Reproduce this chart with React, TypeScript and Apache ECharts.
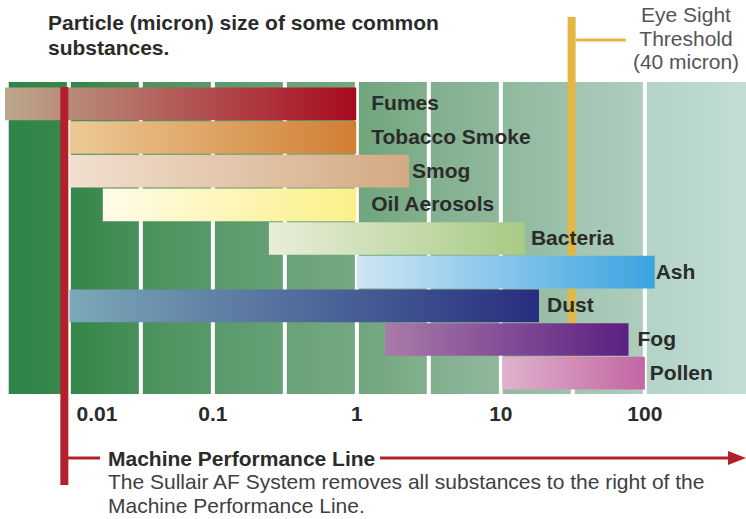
import React, { useEffect, useRef } from "react";
import * as echarts from "echarts";

// ---------- data ----------
const substances = ["Fumes", "Tobacco Smoke", "Smog", "Oil Aerosols", "Bacteria", "Ash", "Dust", "Fog", "Pollen"];
const sizeMin = [0.0036, 0.0101, 0.0101, 0.0172, 0.245, 1.0, 0.0101, 1.57, 10.2];
const sizeMax = [0.99, 0.99, 2.3, 0.99, 14.7, 117, 18.4, 77, 100];
const colorFrom = ["#bca88e", "#ecca96", "#f2dfcf", "#fffbe8", "#e8eed9", "#cfe6f4", "#7ba8b7", "#aa7aa9", "#deb3cc"];
const colorTo = ["#a80a1f", "#d07e33", "#d3aa82", "#fbf088", "#a8ca84", "#3aa3e0", "#272d80", "#5b1f82", "#c466a3"];
const labelGap = [15, 15, 3, 15, 6, 1, 8, 9, 5];

const tickValues = [0.01, 0.1, 1, 10, 100];
const tickLabels = ["0.01", "0.1", "1", "10", "100"];
const axisMin = 0.0036;
const axisMax = 504;

const bandEdges = [0.0037, 0.01, 0.0316, 0.1, 0.316, 1, 3.16, 10, 31.6, 100, 504];
const bandColorFrom = ["#2f8449", "#348649", "#4a915c", "#5a9a6c", "#68a278", "#70a57d", "#82b08f", "#8fb99c", "#a3c5b1", "#b3d3c6"];
const bandColorTo = ["#36874c", "#48905a", "#58996a", "#65a176", "#74a880", "#82b08d", "#8fb79b", "#9cc2ab", "#aecdbd", "#c2ddd6"];

const eyeSightValue = 31; // drawn position of the 40 micron threshold line
const machineLineValue = 0.0093;

const FONT = '"Liberation Sans", Arial, Helvetica, sans-serif';
const FS = 21;

export default function App() {
  const ref = useRef<HTMLDivElement>(null);

  useEffect(() => {
    if (!ref.current) return;
    const chart = echarts.init(ref.current, undefined, { renderer: "svg" });

    const bandData = bandEdges.slice(0, -1).map((v, i) => [v, bandEdges[i + 1], i]);
    const barData = substances.map((s, i) => [sizeMin[i], sizeMax[i], i]);

    const option: any = {
      animation: false,
      backgroundColor: "#ffffff",
      grid: [
        { left: 5, right: 0, top: 82, bottom: 125 },
        { left: 5, right: 0, top: 87, bottom: 129 },
      ],
      xAxis: [
        {
          type: "log",
          gridIndex: 0,
          min: axisMin,
          max: axisMax,
          axisLine: { show: false },
          axisTick: { show: false },
          splitLine: { show: false },
          axisLabel: {
            show: true,
            margin: 9,
            showMinLabel: false,
            showMaxLabel: false,
            color: "#2b2b2b",
            fontSize: FS,
            fontWeight: "bold",
            fontFamily: FONT,
            formatter: (v: number) => {
              const idx = tickValues.findIndex((t) => Math.abs(Math.log10(v) - Math.log10(t)) < 1e-6);
              if (idx < 0) return "";
              return idx === 0 ? "{s|" + tickLabels[idx] + "}" : tickLabels[idx];
            },
            rich: {
              s: { padding: [0, 0, 0, 56], fontSize: FS, fontWeight: "bold", fontFamily: FONT, color: "#2b2b2b" },
            },
          },
        },
        {
          type: "log",
          gridIndex: 1,
          min: axisMin,
          max: axisMax,
          show: false,
        },
      ],
      yAxis: [
        { type: "value", gridIndex: 0, min: 0, max: 1, show: false },
        { type: "category", gridIndex: 1, data: substances, inverse: true, show: false },
      ],
      series: [
        {
          type: "custom",
          xAxisIndex: 0,
          yAxisIndex: 0,
          z: 0,
          silent: true,
          encode: { x: [0, 1], y: 2 },
          data: bandData,
          renderItem: (params: any, api: any) => {
            const i = params.dataIndex;
            const pTop = api.coord([api.value(0), 1]);
            const pBot = api.coord([api.value(1), 0]);
            const left = pTop[0] + 2;
            const right = pBot[0] - (i === bandData.length - 1 ? 0 : 2);
            return {
              type: "rect",
              shape: { x: left, y: pTop[1], width: right - left, height: pBot[1] - pTop[1] },
              style: {
                fill: new echarts.graphic.LinearGradient(0, 0, 1, 0, [
                  { offset: 0, color: bandColorFrom[i] },
                  { offset: 1, color: bandColorTo[i] },
                ]),
              },
            };
          },
        },
        {
          type: "custom",
          xAxisIndex: 1,
          yAxisIndex: 1,
          z: 2,
          silent: true,
          encode: { x: [0, 1], y: 2 },
          data: barData,
          renderItem: (params: any, api: any) => {
            const i = params.dataIndex;
            const cat = api.value(2);
            const p0 = api.coord([api.value(0), cat]);
            const p1 = api.coord([api.value(1), cat]);
            const bh = api.size([0, 1])[1] - 1;
            return {
              type: "group",
              children: [
                {
                  type: "rect",
                  shape: { x: p0[0], y: p0[1] - bh / 2, width: p1[0] - p0[0], height: bh },
                  style: {
                    fill: new echarts.graphic.LinearGradient(0, 0, 1, 0, [
                      { offset: 0, color: colorFrom[i] },
                      { offset: 1, color: colorTo[i] },
                    ]),
                  },
                },
                {
                  type: "text",
                  x: p1[0] + labelGap[i],
                  y: p0[1] - 1,
                  style: {
                    text: substances[i],
                    fill: "#2b2b2b",
                    fontSize: FS,
                    fontWeight: "bold",
                    fontFamily: FONT,
                    align: "left",
                    verticalAlign: "middle",
                  },
                },
              ],
            };
          },
        },
      ],
    };

    chart.setOption(option);

    const xMachine = chart.convertToPixel({ xAxisIndex: 0 }, machineLineValue) as number;
    const xEye = chart.convertToPixel({ xAxisIndex: 0 }, eyeSightValue) as number;
    const red = "#b3202c";
    const yellow = "#e2b843";

    chart.setOption({
      graphic: [
        {
          type: "text",
          x: 48,
          y: 10,
          z: 10,
          style: {
            text: "Particle (micron) size of some common\nsubstances.",
            fill: "#2b2b2b",
            fontSize: FS,
            fontWeight: "bold",
            fontFamily: FONT,
            lineHeight: 25,
          },
        },
        {
          type: "text",
          x: 686,
          y: 3,
          z: 10,
          style: {
            text: "Eye Sight\nThreshold\n(40 micron)",
            fill: "#555555",
            fontSize: 21,
            fontFamily: FONT,
            lineHeight: 23.5,
            align: "center",
          },
        },
        {
          type: "line",
          z: 1,
          shape: { x1: xEye, y1: 17, x2: xEye, y2: 373 },
          style: { stroke: yellow, lineWidth: 8 },
        },
        {
          type: "line",
          z: 1,
          shape: { x1: xEye + 4, y1: 40, x2: 626, y2: 40 },
          style: { stroke: yellow, lineWidth: 3 },
        },
        {
          type: "line",
          z: 10,
          shape: { x1: xMachine, y1: 87, x2: xMachine, y2: 485 },
          style: { stroke: red, lineWidth: 8 },
        },
        {
          type: "line",
          z: 10,
          shape: { x1: xMachine, y1: 458, x2: 100, y2: 458 },
          style: { stroke: red, lineWidth: 3 },
        },
        {
          type: "line",
          z: 10,
          shape: { x1: 380, y1: 458, x2: 734, y2: 458 },
          style: { stroke: red, lineWidth: 3 },
        },
        {
          type: "polygon",
          z: 10,
          shape: { points: [[746, 458], [728, 451], [728, 465]] },
          style: { fill: red },
        },
        {
          type: "text",
          x: 108,
          y: 458,
          z: 10,
          style: {
            text: "Machine Performance Line",
            fill: "#2b2b2b",
            fontSize: FS,
            fontWeight: "bold",
            fontFamily: FONT,
            verticalAlign: "middle",
          },
        },
        {
          type: "text",
          x: 108,
          y: 469,
          z: 10,
          style: {
            text: "The Sullair AF System removes all substances to the right of the\nMachine Performance Line.",
            fill: "#404040",
            fontSize: FS,
            fontFamily: FONT,
            lineHeight: 24,
          },
        },
      ],
    });

    return () => chart.dispose();
  }, []);

  return (
    <div
      ref={ref}
      style={{ position: "fixed", left: 0, top: 0, width: 746, height: 519 }}
    />
  );
}
